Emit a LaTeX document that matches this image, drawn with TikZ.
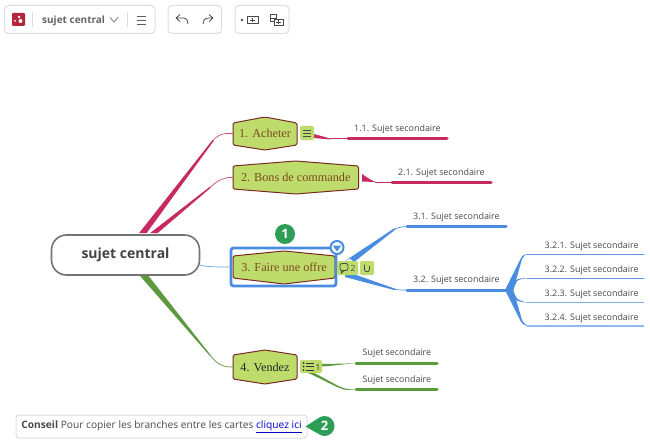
\documentclass[tikz,border=0pt]{standalone}
\usepackage{fontspec}
\setmainfont{Open Sans}
\newfontfamily\serifnode{Liberation Serif}
\usetikzlibrary{calc}
\definecolor{crim}{HTML}{C62A60}
\definecolor{blu}{HTML}{4A8DE0}
\definecolor{grn}{HTML}{5C9A3F}
\definecolor{lime}{HTML}{BEDC6C}
\definecolor{hexline}{HTML}{7A2A22}
\definecolor{hextext}{HTML}{7E4A1E}
\definecolor{txt}{HTML}{4A4A4A}
\definecolor{badgegreen}{HTML}{2E9E57}
\definecolor{tool}{HTML}{DEDEDE}
\definecolor{logo}{HTML}{B5263C}
\newcommand{\fs}[1]{\fontsize{#1}{#1}\selectfont}
\tikzset{
  hextxt/.style={inner sep=0pt,text=hextext,font=\serifnode\fs{12.2}},
  sublabel/.style={inner sep=0pt,text=txt,font=\fs{8.9},anchor=west,yshift=-.8pt},
  thick blue/.style={draw=blu,line width=3pt,line cap=round},
  thin link/.style={line width=.7pt},
  hexshape/.style={fill=lime,draw=hexline,line width=1pt,rounded corners=1.5pt},
  toolbox/.style={draw=tool,line width=1pt,rounded corners=4pt,fill=white},
  icon/.style={draw=#1,line width=.8pt,fill=none},
  icon/.default=txt,
  badge/.style={fill=lime,rounded corners=2pt,draw=none},
  num/.style={circle,fill=badgegreen,text=white,minimum size=20pt,inner sep=0pt,font=\bfseries\fs{13}},
}
% name, x1, x2, apex top, corner top, corner bottom, apex bottom, text
\newcommand{\hexn}[8]{%
  \draw[hexshape] (#2,#5) -- ({(#2+#3)/2},#4) -- (#3,#5) -- (#3,#6) -- ({(#2+#3)/2},#7) -- (#2,#6) -- cycle;
  \node[hextxt,minimum width={(#3-#2)*1pt},minimum height={(#7-#4)*1pt}] (#1) at ({(#2+#3)/2},{(#4+#7)/2}) {#8};
}
\begin{document}
\begin{tikzpicture}[x=1pt,y=-1pt]
\useasboundingbox[fill=white] (0,0) rectangle (650,441);

% toolbar
\draw[toolbox] (4.5,5.5) rectangle (155,33.5);
\draw[toolbox] (168,5.5) rectangle (221.5,33.5);
\draw[toolbox] (235,5.5) rectangle (289,33.5);
\fill[logo,rounded corners=1pt] (12,13) rectangle (25,26);
\fill[white] (15,21) circle (1pt) (19,17) circle (1.4pt) (20.5,21) circle (2pt);
\draw[tool] (32.5,12) -- (32.5,27) (127.5,12) -- (127.5,27);
\node[inner sep=0pt,text=txt!85,font=\bfseries\fs{10},anchor=base west] (tbt) at (42,24) {sujet central};
\draw[icon=txt!70] (110,17.5) -- (114,22) -- (118,17.5);
\draw[icon=txt!90] (136.5,16) -- (146,16) (136.5,20) -- (146,20) (136.5,24) -- (146,24);
\draw[icon=txt,-] (176,18) -- (180,14.5) (176,18) -- (180,21.5) (176,18) -- (183,18) .. controls (187,18) and (188,21) .. (188,24);
\draw[icon=txt,-] (213,18) -- (209,14.5) (213,18) -- (209,21.5) (213,18) -- (209,18) .. controls (204,18) and (203,21) .. (203,24);
\fill[txt] (242,20) circle (1.3pt);
\draw[icon=txt] (247,16.5) rectangle (258,23.5) (250,20) -- (255,20) (252.5,18) -- (252.5,22);
\draw[icon=txt] (270,14.5) -- (270,21) -- (274,21) (270,14.5) rectangle (276,18);
\draw[icon=txt] (274,19) rectangle (283,25.5) (276,22.2) -- (281,22.2) (278.5,20.3) -- (278.5,24.2);

% hexagons (text nodes span the shapes)
\hexn{a}{233}{297}{117}{123}{145}{150}{1. Acheter}
\hexn{b}{233}{358.5}{161}{166}{189}{194}{2. Bons de commande}

% central node
\node[draw=black!55,line width=1.6pt,fill=white,rounded corners=15pt,minimum width=148pt,minimum height=40pt,inner sep=0pt,text=txt!90!black,font=\bfseries\fs{14}] (c) at (125.5,255) {sujet central};

% main branches
\fill[crim] ($(c.north)+(13.5,-1)$) -- ($(c.north)+(21,-1)$) -- (214,140.5) -- (212.5,140) -- cycle;
\fill[crim] ($(c.north)+(24.5,-1)$) -- ($(c.north)+(32,-1)$) -- (211,187.5) -- (209.5,187) -- cycle;
\draw[crim!85,thin link] (213,140.5) .. controls (219,134) and (223,133) .. (a.west);
\draw[crim!85,thin link] (210,187.5) .. controls (218,180) and (224,177) .. (b.west);
\fill[grn] ($(c.south)+(14.5,0)$) -- ($(c.south)+(23,0)$) -- (210.5,355) -- (209.5,355.5) -- cycle;

% branch 1
\fill[crim] (314,134) -- (330,138.5) -- (330,139.5) -- (314,138) -- cycle;
\coordinate (l11) at (348,138.7);
\coordinate (e11) at (447,138.7);
\draw[crim,thin link] (330,138.7) -- (l11);
\draw[crim,line width=3pt,line cap=round] (l11) -- (e11);
\node[sublabel] (t11) at (354,128) {1.1. Sujet secondaire};

% branch 2
\fill[crim] (362,174) .. controls (368,178) and (372,181) .. (376,182) -- (362,181.5) -- cycle;
\coordinate (l21) at (392,182);
\coordinate (e21) at (491,182);
\draw[crim,thin link] (375,182) -- (l21);
\draw[crim,line width=3pt,line cap=round] (l21) -- (e21);
\node[sublabel] (t21) at (398,172) {2.1. Sujet secondaire};

% selected node 3
\hexn{d}{233}{335}{251}{256}{278}{284}{3. Faire une offre}
\node[draw=blu,line width=2.8pt,rounded corners=2.5pt,minimum width=105pt,minimum height=38pt,inner sep=0pt] (sel) at (283.5,267) {};
\draw[blu!85,thin link] ($(c.east)+(-1,10)$) .. controls (208,267) and (215,267) .. (sel.west);

% branch 3
\coordinate (l31) at (407,226.5);
\coordinate (e31) at (506,226.5);
\coordinate (l32) at (407,290);
\coordinate (e32) at (506,290);
\fill[blu] (345,261) -- (350,258.5) -- (354,262) -- (396,229) -- (394,228.5) -- cycle;
\draw[blu,thin link] (395,229) .. controls (400,227) and (403,226.5) .. (l31);
\fill[blu] (336,267) -- (343,262) -- (345,272) -- cycle;
\fill[blu] (345,271) -- (345,277) -- (394,290) -- (396,289) -- cycle;
\draw[blu,thin link] (394,289.3) .. controls (398,290) and (403,290) .. (l32);
\draw[thick blue] (l31) -- (e31);
\draw[thick blue] (l32) -- (e32);
\node[sublabel] (t31) at (413,216.5) {3.1. Sujet secondaire};
\node[sublabel] (t32) at (413,279.5) {3.2. Sujet secondaire};

% 3.2 children
\coordinate (n1) at (644,254.3);
\coordinate (n2) at (644,278.3);
\coordinate (n3) at (644,302.3);
\coordinate (n4) at (644,326);
\fill[blu] (505,290) -- (513,291) -- (522,259) .. controls (524,255.5) and (526,254.3) .. (529,254.3) .. controls (525,254) and (523,255) .. (521,258) -- cycle;
\fill[blu] (505,290) -- (512,292) -- (517,281) .. controls (520,279) and (524,278.3) .. (529,278.3) .. controls (524,277.8) and (519,278.3) .. (516,280) -- cycle;
\fill[blu] (505,290) -- (511,288) -- (517,298.5) .. controls (520,301) and (525,302.3) .. (529,302.3) .. controls (525,302.6) and (519,302) .. (516,300) -- cycle;
\fill[blu] (505,290) -- (513,289) -- (522,320) .. controls (524,324) and (527,326) .. (531,326) .. controls (526,326.3) and (523,325) .. (520.5,321) -- cycle;
\draw[blu!90,line width=.8pt] (527,254.3) -- (n1);
\draw[blu!90,line width=.8pt] (527,278.3) -- (n2);
\draw[blu!70,line width=1pt] (527,302.3) -- (n3);
\draw[blu!60,line width=1.2pt] (527,326) -- (n4);
\node[sublabel] (t321) at (544.5,245) {3.2.1. Sujet secondaire};
\node[sublabel] (t322) at (544.5,269) {3.2.2. Sujet secondaire};
\node[sublabel] (t323) at (544.5,293) {3.2.3. Sujet secondaire};
\node[sublabel] (t324) at (544.5,317) {3.2.4. Sujet secondaire};

% node 4 and children
\hexn{e}{233}{297}{350}{355}{379}{384}{\textcolor{black!85}{4. Vendez}}
\draw[grn,thin link] (210,355) .. controls (216,363) and (222,367.5) .. (e.west);
\coordinate (l41) at (356,363.3);
\coordinate (e41) at (437,363.3);
\coordinate (l42) at (356,389.5);
\coordinate (e42) at (437,389.5);
\fill[grn] (322,364) .. controls (332,364) and (344,363.5) .. (l41) .. controls (344,364) and (332,366) .. (322,366.5) -- cycle;
\fill[grn] (308,373) -- (314,373) .. controls (325,378) and (338,387) .. (346,388.7) .. controls (349,389.4) and (352,389.5) .. (l42) .. controls (351,390) and (347,390) .. (344,389.5) .. controls (335,387) and (320,378) .. cycle;
\draw[grn,line width=3pt,line cap=round] (l41) -- (e41);
\draw[grn,line width=3pt,line cap=round] (l42) -- (e42);
\node[sublabel] (t41) at (362.5,352.5) {Sujet secondaire};
\node[sublabel] (t42) at (362.5,379) {Sujet secondaire};

% badges
\fill[badge] (300,126) rectangle (314,140);
\draw[icon=black!70] (303,130) -- (311,130) (303,133) -- (311,133) (303,136) -- (311,136);
\fill[badge] (337,261) rectangle (358,275);
\draw[icon=txt,rounded corners=2pt] (340,263.5) rectangle (348,270.5);
\draw[icon=txt] (341.5,270.5) -- (341.5,273) -- (344,270.5);
\node[inner sep=0pt,text=txt,font=\fs{8.5}] (n2b) at (353,268) {2};
\fill[badge] (360,261) rectangle (374,275);
\draw[icon=txt] (364.5,264.5) -- (364.5,269.5) .. controls (364.5,272.5) and (369.5,272.5) .. (369.5,269.5) -- (369.5,266);
\fill[badge] (300,360) rectangle (322,373);
\fill[black!80] (303.5,363) circle (1pt) (303.5,366.5) circle (1pt) (303.5,370) circle (1pt);
\draw[icon=black!80,line width=1pt] (306,363) -- (314,363) (306,366.5) -- (314,366.5) (306,370) -- (314,370);
\node[inner sep=0pt,text=black!80,font=\fs{8.5}] (n1b) at (318,367) {1};

% selection control and number badges
\node[circle,draw=blu,line width=2pt,fill=white,minimum size=13pt,inner sep=0pt] (ctl) at (337,247.5) {};
\fill[blu] ($(ctl.center)+(-4.3,-2)$) -- ($(ctl.center)+(4.3,-2)$) -- ($(ctl.center)+(0,4)$) -- cycle;
\node[num] (one) at (285,234) {1};

% tip
\node[draw=tool,line width=1pt,fill=white,rounded corners=3pt,minimum width=291pt,minimum height=23pt,inner sep=0pt,text=txt,font=\fs{10.2}] (tip) at (161.5,426.5) {\textbf{Conseil} Pour copier les branches entre les cartes \textcolor{blue!80!black}{\underline{cliquez ici}}};
\node[num] (two) at (324.5,426) {2};
\fill[badgegreen] (two.north west) -- (305.5,426.5) -- (two.south west) -- cycle;
\end{tikzpicture}
\end{document}
